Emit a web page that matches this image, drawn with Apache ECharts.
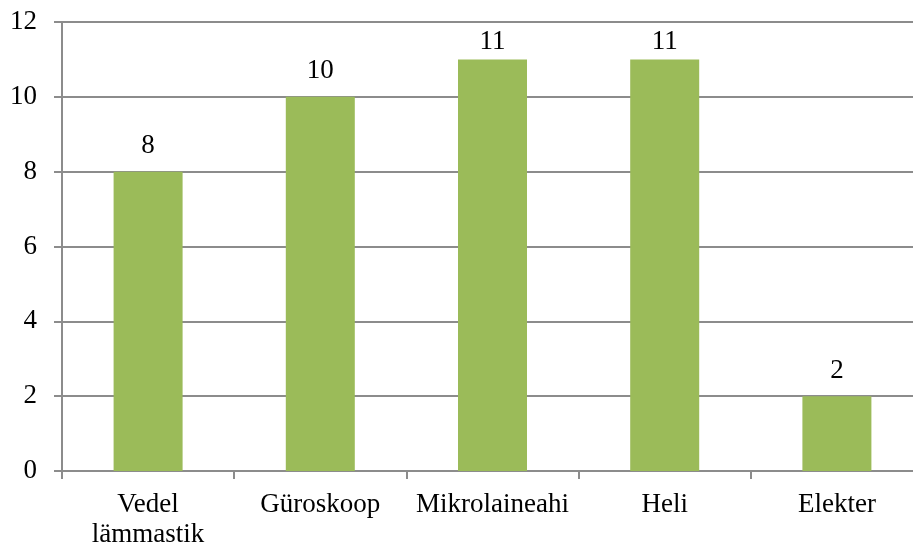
<!DOCTYPE html>
<html>
<head>
<meta charset="utf-8">
<script src="https://cdn.jsdelivr.net/npm/echarts@6/dist/echarts.min.js"></script>
<style>
  html, body { margin: 0; padding: 0; background: #fff; overflow: hidden; }
  #chart { width: 913px; height: 548px; }
</style>
</head>
<body>
<div id="chart"></div>
<script>
// Categories and counts
const categories = ['Vedel\nlämmastik', 'Güroskoop', 'Mikrolaineahi', 'Heli', 'Elekter'];
const counts = [8, 10, 11, 11, 2];
const yTicks = { min: 0, max: 12, interval: 2 };

const font = '"Liberation Serif", "Times New Roman", serif';
const axisGray = '#8c8c8c';

// Value labels that would poke above the plot top are tucked closer to their bar
const barData = counts.map(v => ({
  value: v,
  label: { distance: (yTicks.max - v) < 1.5 ? 4 : 12 }
}));

const chart = echarts.init(document.getElementById('chart'), null, { renderer: 'canvas' });
chart.setOption({
  animation: false,
  backgroundColor: '#ffffff',
  grid: {
    left: 62, right: -10, top: 22, bottom: 77,
    containLabel: false, outerBoundsMode: 'none'
  },
  xAxis: {
    type: 'category',
    data: categories,
    axisLine: { show: true, lineStyle: { color: axisGray, width: 2 } },
    axisTick: { show: true, length: 8, lineStyle: { color: axisGray, width: 2 } },
    axisLabel: {
      fontFamily: font, fontSize: 27, color: '#000', margin: 19,
      lineHeight: 30, interval: 0
    }
  },
  yAxis: {
    type: 'value',
    min: yTicks.min, max: yTicks.max, interval: yTicks.interval,
    axisLine: { show: true, lineStyle: { color: axisGray, width: 2 } },
    axisTick: { show: true, length: 8, lineStyle: { color: axisGray, width: 2 } },
    axisLabel: { fontFamily: font, fontSize: 27, color: '#000', margin: 25 },
    splitLine: { show: true, lineStyle: { color: axisGray, width: 2 } }
  },
  series: [{
    type: 'bar',
    data: barData,
    barWidth: 69,
    itemStyle: { color: '#9bbb59' },
    label: {
      show: true, position: 'top', distance: 12,
      fontFamily: font, fontSize: 27, color: '#000'
    }
  }]
});
</script>
</body>
</html>
